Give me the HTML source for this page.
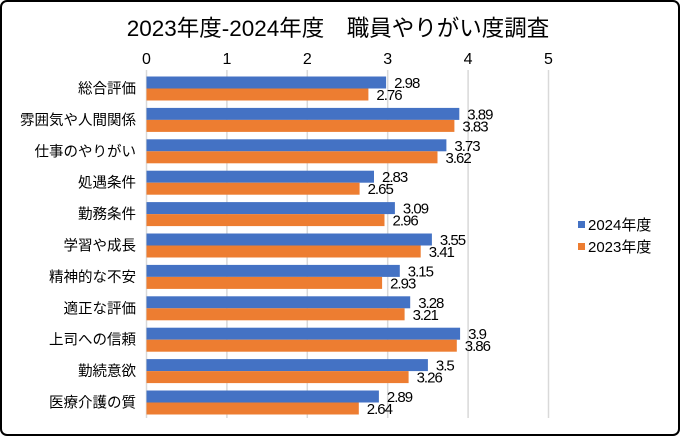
<!DOCTYPE html>
<html><head><meta charset="utf-8"><style>
html,body{margin:0;padding:0;background:#fff}
body{width:680px;height:436px;overflow:hidden}
</style></head><body>
<svg width="680" height="436" xmlns="http://www.w3.org/2000/svg" font-family="Liberation Sans, Noto Sans CJK JP, sans-serif">
<rect x="1" y="1" width="678" height="434" rx="6" fill="#fff" stroke="#000" stroke-width="2"/>
<text x="338" y="36" text-anchor="middle" font-size="22.5" fill="#000">2023年度-2024年度　職員やりがい度調査</text>
<g stroke="#d9d9d9" stroke-width="1.5">
<line x1="146.5" y1="70" x2="146.5" y2="418"/>
<line x1="226.9" y1="70" x2="226.9" y2="418"/>
<line x1="307.3" y1="70" x2="307.3" y2="418"/>
<line x1="387.7" y1="70" x2="387.7" y2="418"/>
<line x1="468.1" y1="70" x2="468.1" y2="418"/>
<line x1="548.5" y1="70" x2="548.5" y2="418"/>
</g>
<g font-size="16" text-anchor="middle" fill="#000">
<text x="146.5" y="64">0</text><text x="226.9" y="64">1</text><text x="307.3" y="64">2</text>
<text x="387.7" y="64">3</text><text x="468.1" y="64">4</text><text x="548.5" y="64">5</text>
</g>
<g font-size="14.5" text-anchor="end" fill="#000">
<text x="136" y="93.5">総合評価</text>
<text x="136" y="124.9">雰囲気や人間関係</text>
<text x="136" y="156.3">仕事のやりがい</text>
<text x="136" y="187.7">処遇条件</text>
<text x="136" y="219.1">勤務条件</text>
<text x="136" y="250.5">学習や成長</text>
<text x="136" y="281.9">精神的な不安</text>
<text x="136" y="313.3">適正な評価</text>
<text x="136" y="344.7">上司への信頼</text>
<text x="136" y="376.1">勤続意欲</text>
<text x="136" y="407.5">医療介護の質</text>
</g>
<g fill="#4472c4">
<rect x="146.5" y="76.5" width="239.6" height="12"/>
<rect x="146.5" y="107.9" width="312.8" height="12"/>
<rect x="146.5" y="139.3" width="299.9" height="12"/>
<rect x="146.5" y="170.7" width="227.5" height="12"/>
<rect x="146.5" y="202.1" width="248.4" height="12"/>
<rect x="146.5" y="233.5" width="285.4" height="12"/>
<rect x="146.5" y="264.9" width="253.3" height="12"/>
<rect x="146.5" y="296.3" width="263.7" height="12"/>
<rect x="146.5" y="327.7" width="313.6" height="12"/>
<rect x="146.5" y="359.1" width="281.4" height="12"/>
<rect x="146.5" y="390.5" width="232.4" height="12"/>
</g>
<g fill="#ed7d31">
<rect x="146.5" y="88.5" width="221.9" height="12"/>
<rect x="146.5" y="119.9" width="307.9" height="12"/>
<rect x="146.5" y="151.3" width="291.0" height="12"/>
<rect x="146.5" y="182.7" width="213.1" height="12"/>
<rect x="146.5" y="214.1" width="238.0" height="12"/>
<rect x="146.5" y="245.5" width="274.2" height="12"/>
<rect x="146.5" y="276.9" width="235.6" height="12"/>
<rect x="146.5" y="308.3" width="258.1" height="12"/>
<rect x="146.5" y="339.7" width="310.3" height="12"/>
<rect x="146.5" y="371.1" width="262.1" height="12"/>
<rect x="146.5" y="402.5" width="212.3" height="12"/>
</g>
<g font-size="15" fill="#000" letter-spacing="-1">
<text x="394.1" y="88">2.98</text><text x="376.4" y="100">2.76</text>
<text x="467.3" y="119.4">3.89</text><text x="462.4" y="131.4">3.83</text>
<text x="454.4" y="150.8">3.73</text><text x="445.5" y="162.8">3.62</text>
<text x="382" y="182.2">2.83</text><text x="367.6" y="194.2">2.65</text>
<text x="402.9" y="213.6">3.09</text><text x="392.5" y="225.6">2.96</text>
<text x="439.9" y="245">3.55</text><text x="428.7" y="257">3.41</text>
<text x="407.8" y="276.4">3.15</text><text x="390.1" y="288.4">2.93</text>
<text x="418.2" y="307.8">3.28</text><text x="412.6" y="319.8">3.21</text>
<text x="468.1" y="339.2">3.9</text><text x="464.8" y="351.2">3.86</text>
<text x="435.9" y="370.6">3.5</text><text x="416.6" y="382.6">3.26</text>
<text x="386.9" y="402">2.89</text><text x="366.8" y="414">2.64</text>
</g>
<g font-size="15" fill="#000">
<rect x="578" y="221" width="7" height="7" fill="#4472c4"/><text x="588" y="230">2024年度</text>
<rect x="578" y="243" width="7" height="7" fill="#ed7d31"/><text x="588" y="252">2023年度</text>
</g>
</svg>
</body></html>
